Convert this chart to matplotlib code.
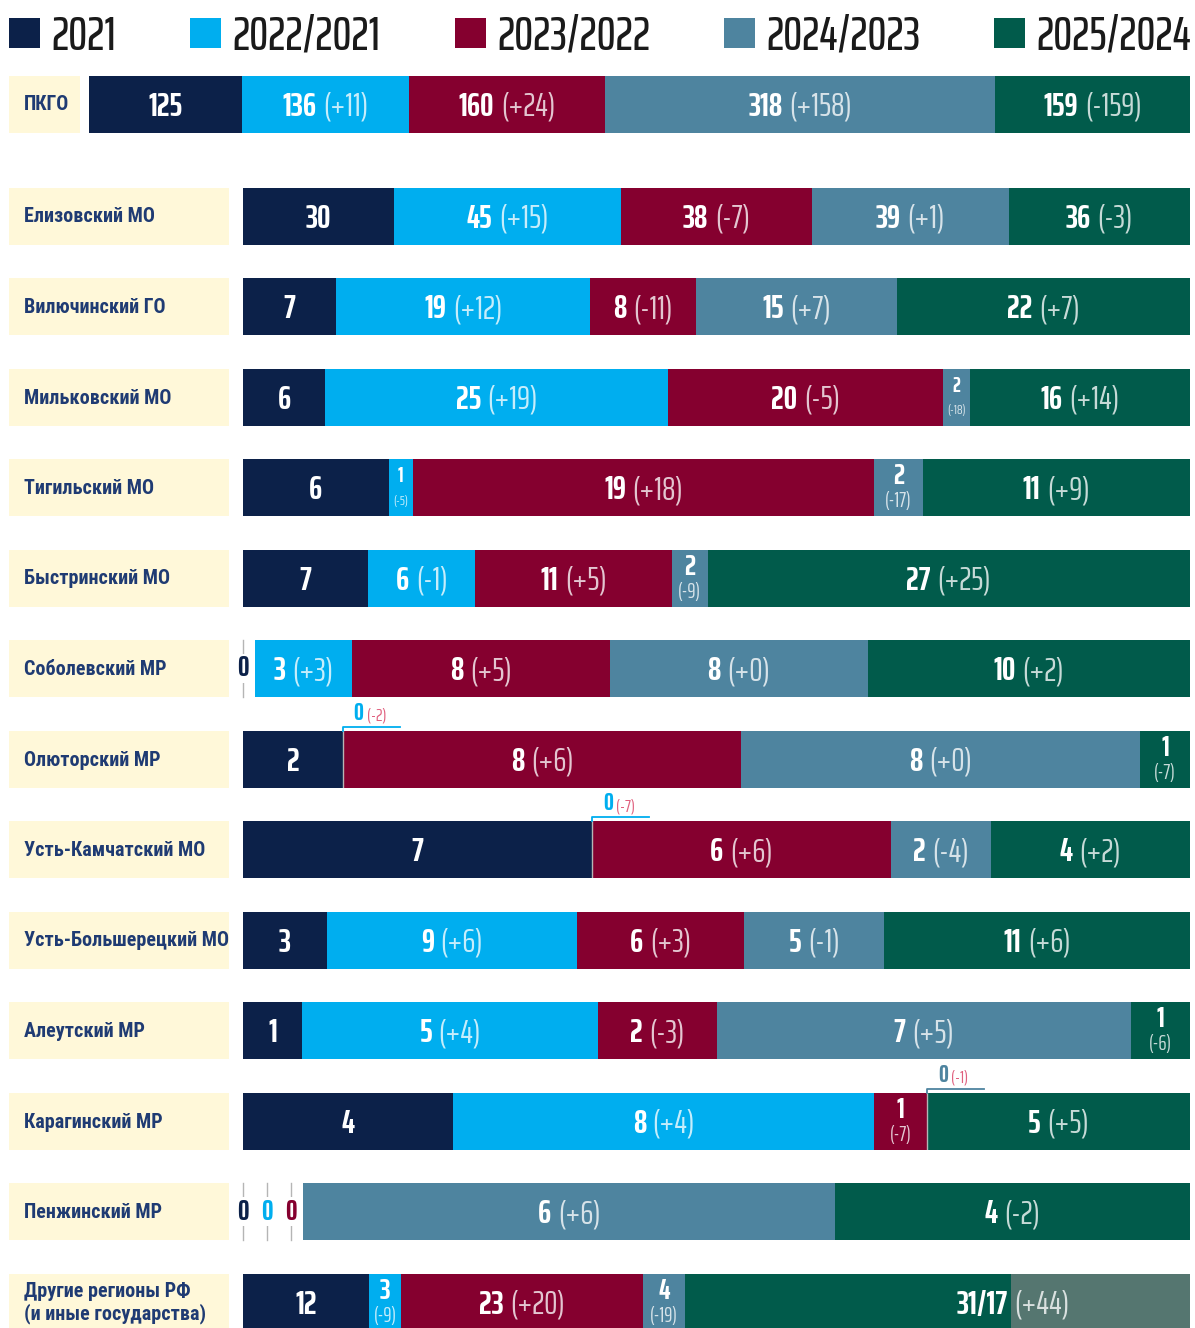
import numpy as np
import matplotlib.pyplot as plt
from matplotlib.patches import Rectangle

NUM_FONT = ['Saira ExtraCondensed', 'Sofia Sans Extra Condensed', 'DejaVu Sans']
TXT_FONT = ['Roboto Condensed', 'Fira Sans Extra Condensed', 'PT Sans Narrow',
            'Sofia Sans Condensed', 'DejaVu Sans']
plt.rcParams['font.family'] = NUM_FONT

# ---- data ----
years = ['2021', '2022/2021', '2023/2022', '2024/2023', '2025/2024']
colors = ['#0c2149', '#00aeef', '#85002f', '#4e849f', '#015b4b']
extra_color = '#557670'

regions = ['ПКГО', 'Елизовский МО', 'Вилючинский ГО', 'Мильковский МО',
           'Тигильский МО', 'Быстринский МО', 'Соболевский МР', 'Олюторский МР',
           'Усть-Камчатский МО', 'Усть-Большерецкий МО', 'Алеутский МР',
           'Карагинский МР', 'Пенжинский МР',
           'Другие регионы РФ\n(и иные государства)']
counts = [[125, 136, 160, 318, 159],
          [30, 45, 38, 39, 36],
          [7, 19, 8, 15, 22],
          [6, 25, 20, 2, 16],
          [6, 1, 19, 2, 11],
          [7, 6, 11, 2, 27],
          [0, 3, 8, 8, 10],
          [2, 0, 8, 8, 1],
          [7, 0, 6, 2, 4],
          [3, 9, 6, 5, 11],
          [1, 5, 2, 7, 1],
          [4, 8, 1, 0, 5],
          [0, 0, 0, 6, 4],
          [12, 3, 23, 4, 48]]
changes = [[None, 11, 24, 158, -159],
           [None, 15, -7, 1, -3],
           [None, 12, -11, 7, 7],
           [None, 19, -5, -18, 14],
           [None, -5, 18, -17, 9],
           [None, -1, 5, -9, 25],
           [None, 3, 5, 0, 2],
           [None, -2, 6, 0, -7],
           [None, -7, 6, -4, 2],
           [None, 6, 3, -1, 6],
           [None, 4, -3, 5, -6],
           [None, 4, -7, -1, 5],
           [None, None, None, 6, -2],
           [None, -9, 20, -19, 44]]
# last row: 2025 split into two parts
other_split = [31, 17]

# ---- layout ----
W, H = 1195, 1328
row_y = [104] + [216 + 90.5 * i for i in range(13)]
bar_h = 57
bar_right = 1190
label_color = '#1f3b73'
pink = '#e0607e'
NSIZE = 24

fig = plt.figure(figsize=(W / 100, H / 100), dpi=100)
bg = fig.add_axes([0, 0, 1, 1])
bg.set_xlim(0, W)
bg.set_ylim(H, 0)
bg.axis('off')
renderer = fig.canvas.get_renderer()

# legend
leg_x = [9, 190, 455, 724, 994]
for lx, yr, c in zip(leg_x, years, colors):
    bg.add_patch(Rectangle((lx, 18), 31, 30, color=c, lw=0))
    bg.text(lx + 42, 50, yr, fontsize=34, fontweight=500, color='#1a1a1a',
            va='baseline', ha='left')


def fmt(c):
    return '(%+d)' % c


def inline_label(ax, x, num, chg, size):
    ypx = -0.35 * size * 100 / 72
    t1 = ax.annotate(num, (x, 0.5), xycoords=('data', 'axes fraction'),
                     textcoords='offset pixels', xytext=(0, ypx), ha='left',
                     va='baseline', fontsize=size, fontweight='bold', color='white')
    if chg is None:
        t1.set_ha('center')
        return
    t2 = ax.annotate(chg, (x, 0.5), xycoords=('data', 'axes fraction'),
                     textcoords='offset pixels', xytext=(0, ypx), ha='left',
                     va='baseline', fontsize=size, color='white', alpha=0.78)
    w1 = t1.get_window_extent(renderer).width
    w2 = t2.get_window_extent(renderer).width
    gap = size * 0.28
    tot = w1 + gap + w2
    t1.set_position((-tot / 2, ypx))
    t2.set_position((-tot / 2 + w1 + gap, ypx))


def stacked_label(ax, x, num, chg, tiny):
    s1, s2 = (15, 10) if tiny else (21, 15)
    ax.text(x, 0.70, num, transform=ax.get_xaxis_transform(), ha='center',
            va='center', fontsize=s1, fontweight='bold', color='white')
    if chg is not None:
        ax.text(x, 0.26, chg, transform=ax.get_xaxis_transform(), ha='center',
                va='center', fontsize=s2, color='white', alpha=0.78)


for i, (name, vals, chs) in enumerate(zip(regions, counts, changes)):
    yc = row_y[i]
    x0 = 89 if i == 0 else 243
    # label box
    bg.add_patch(Rectangle((9, yc - bar_h / 2), x0 - 9 - (9 if i == 0 else 14),
                           bar_h, color='#fff8d9', lw=0))
    bg.text(24, yc + 1, name, fontsize=14.5, fontweight='bold', color=label_color,
            family=TXT_FONT, va='center', ha='left', linespacing=1.15)

    lead = 0
    while lead < len(vals) and vals[lead] == 0:
        lead += 1
    for k in range(lead):
        zx = x0 + 24 * k
        bg.plot([zx, zx], [yc - bar_h / 2, yc + bar_h / 2], color='#b5b5b5', lw=1)
        bg.text(zx, yc, '0', fontsize=21, fontweight='bold', color=colors[k],
                ha='center', va='center',
                bbox=dict(fc='white', ec='none', pad=0.5))
    xb = x0 + 24 * lead - 12 if lead else x0

    ax = fig.add_axes([xb / W, 1 - (yc + bar_h / 2) / H, (bar_right - xb) / W, bar_h / H])
    total = sum(vals)
    ax.set_xlim(0, total)
    ax.set_ylim(0, 1)
    ax.axis('off')
    px_per = (bar_right - xb) / total

    seg_vals = list(vals)
    seg_cols = list(colors)
    if i == len(regions) - 1:
        seg_vals = vals[:4] + other_split
        seg_cols = colors + [extra_color]
    lefts = np.concatenate([[0], np.cumsum(seg_vals)[:-1]])
    ax.barh(0.5, seg_vals, left=lefts, height=1, color=seg_cols, lw=0)

    starts = np.concatenate([[0], np.cumsum(vals)[:-1]])
    for j, (v, c) in enumerate(zip(vals, chs)):
        if j < lead:
            continue
        b = starts[j]
        if v == 0:
            # zero in the middle: label above with a bracket
            ax.plot([b, b], [0, 1], color='#b5b5b5', lw=1)
            dx = 57 / px_per
            yt = 1 + 4 / bar_h
            ax.plot([b, b, b + dx], [1, yt, yt], color=colors[j], lw=1.3, clip_on=False)
            t1 = ax.annotate('0', (b, yt), xycoords='data', textcoords='offset pixels',
                             xytext=(11, 2), ha='left', va='bottom', fontsize=18,
                             fontweight='bold', color=colors[j], annotation_clip=False)
            w1 = t1.get_window_extent(renderer).width
            ax.annotate(fmt(c), (b, yt), xycoords='data', textcoords='offset pixels',
                        xytext=(11 + w1 + 3, 3), ha='left', va='bottom', fontsize=13,
                        color=pink, annotation_clip=False)
            continue
        cx = b + v / 2
        seg_px = v * px_per
        chg = fmt(c) if c is not None else None
        if i == len(regions) - 1 and j == 4:
            bnd = b + other_split[0]
            ypx = -0.35 * NSIZE * 100 / 72
            ax.annotate('%d/%d' % tuple(other_split), (bnd, 0.5),
                        xycoords=('data', 'axes fraction'), textcoords='offset pixels',
                        xytext=(-3, ypx), ha='right', va='baseline', fontsize=NSIZE,
                        fontweight='bold', color='white')
            ax.annotate(chg, (bnd, 0.5), xycoords=('data', 'axes fraction'),
                        textcoords='offset pixels', xytext=(3, ypx), ha='left',
                        va='baseline', fontsize=NSIZE, color='white', alpha=0.78)
        elif seg_px >= 75 or chg is None:
            inline_label(ax, cx, str(v), chg, NSIZE)
        else:
            stacked_label(ax, cx, str(v), chg, seg_px < 28)

fig.savefig('out.png', dpi=100)
